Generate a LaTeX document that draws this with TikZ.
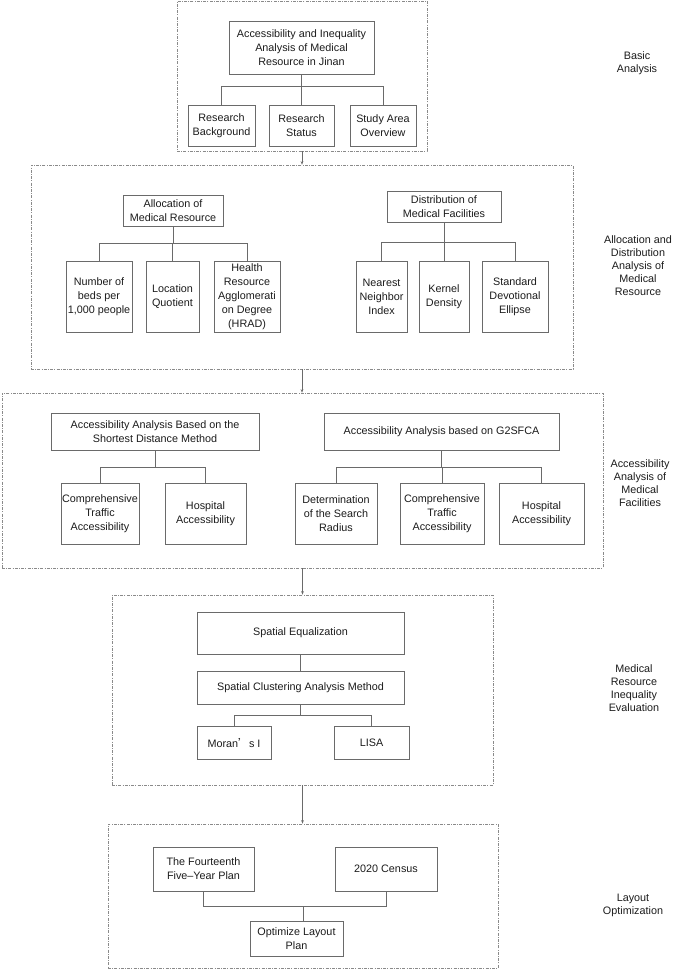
\documentclass[tikz,border=0pt]{standalone}
\usepackage{fontspec}
\setmainfont{Liberation Sans}
\newfontfamily\cjk{Noto Sans CJK SC}
\usetikzlibrary{arrows.meta}
\definecolor{linec}{HTML}{6A6A6A}
\definecolor{dashc}{HTML}{8A8A8A}
\definecolor{textc}{HTML}{1C1C1C}
\begin{document}
\begin{tikzpicture}[x=1pt,y=-1pt,
  bx/.style={draw=linec, line width=0.7pt, inner sep=0pt, align=center, font=\fontsize{10.8}{14}\selectfont, text=textc},
  grp/.style={draw=dashc, line width=0.6pt, dash pattern=on 3pt off 1.2pt on 1pt off 1.2pt, inner sep=0pt},
  lbl/.style={align=center, font=\fontsize{10.8}{13}\selectfont, text=textc},
  con/.style={draw=linec, line width=0.7pt},
  arr/.style={con, -{Stealth[length=3.5pt,width=2.6pt]}}
]
\useasboundingbox (0,0) rectangle (678,969);
\fill[white] (0,0) rectangle (678,969);

% ---------- group 1
\node[grp, minimum width=250pt, minimum height=150pt] (g1) at (302,76) {};
\node[bx, minimum width=145pt, minimum height=53pt] (T) at (301.5,47.5) {Accessibility and Inequality\\Analysis of Medical\\Resource in Jinan};
\node[bx, minimum width=67pt, minimum height=41pt] (RB) at (221.5,125.5) {Research\\Background};
\node[bx, minimum width=65pt, minimum height=41pt] (RS) at (301.5,125.5) {Research\\Status};
\node[bx, minimum width=66pt, minimum height=41pt] (SA) at (383,125.5) {Study Area\\Overview};
\coordinate (b1) at (301.5,86);
\draw[con] (T.south) -- (b1);
\draw[con] (RB.north) -- (RB.north |- b1) -- (SA.north |- b1) -- (SA.north);
\draw[con] (RS.north) -- (RS.north |- b1);
\node[lbl] (L1) at (637,63) {Basic\\Analysis};

% ---------- group 2
\node[grp, minimum width=542pt, minimum height=204pt] (g2) at (302,267) {};
\node[bx, minimum width=100pt, minimum height=31pt] (AM) at (173,210.5) {Allocation of\\Medical Resource};
\node[bx, minimum width=114pt, minimum height=31pt] (DM) at (444,206.5) {Distribution of\\Medical Facilities};
\node[bx, minimum width=66pt, minimum height=71pt] (NB) at (99,296.5) {Number of\\beds per\\1,000 people};
\node[bx, minimum width=53pt, minimum height=71pt] (LQ) at (172.5,296.5) {Location\\Quotient};
\node[bx, minimum width=66pt, minimum height=71pt] (HR) at (247,296.5) {Health\\Resource\\Agglomerati\\on Degree\\(HRAD)};
\node[bx, minimum width=51pt, minimum height=71pt] (NN) at (381.5,296.5) {Nearest\\Neighbor\\Index};
\node[bx, minimum width=50pt, minimum height=71pt] (KD) at (444,296.5) {Kernel\\Density};
\node[bx, minimum width=66pt, minimum height=71pt] (SD) at (515,296.5) {Standard\\Devotional\\Ellipse};
\coordinate (b2a) at (173,243);
\coordinate (b2b) at (444,242);
\draw[con] (AM.south) -- (b2a);
\draw[con] (NB.north) -- (NB.north |- b2a) -- (HR.north |- b2a) -- (HR.north);
\draw[con] (LQ.north) -- (LQ.north |- b2a);
\draw[con] (DM.south) -- (b2b);
\draw[con] (NN.north) -- (NN.north |- b2b) -- (SD.north |- b2b) -- (SD.north);
\draw[con] (KD.north) -- (KD.north |- b2b);
\node[lbl] (L2) at (638,266) {Allocation and\\Distribution\\Analysis of\\Medical\\Resource};

% ---------- group 3
\node[grp, minimum width=601pt, minimum height=175pt] (g3) at (302.5,480.5) {};
\node[bx, minimum width=208pt, minimum height=37pt] (SM) at (155,431.5) {Accessibility Analysis Based on the\\Shortest Distance Method};
\node[bx, minimum width=235pt, minimum height=37pt] (GM) at (441.5,431.5) {Accessibility Analysis based on G2SFCA};
\node[bx, minimum width=78pt, minimum height=61pt] (CA) at (100,513.5) {Comprehensive\\Traffic\\Accessibility};
\node[bx, minimum width=81pt, minimum height=61pt] (HA) at (205.5,513.5) {Hospital\\Accessibility};
\node[bx, minimum width=82pt, minimum height=61pt] (DR) at (336,513.5) {Determination\\of the Search\\Radius};
\node[bx, minimum width=84pt, minimum height=61pt] (CB) at (442,513.5) {Comprehensive\\Traffic\\Accessibility};
\node[bx, minimum width=85pt, minimum height=61pt] (HB) at (541.5,513.5) {Hospital\\Accessibility};
\coordinate (b3a) at (155,467);
\coordinate (b3b) at (441.5,467);
\draw[con] (SM.south) -- (b3a);
\draw[con] (CA.north) -- (CA.north |- b3a) -- (HA.north |- b3a) -- (HA.north);
\draw[con] (GM.south) -- (b3b);
\draw[con] (DR.north) -- (DR.north |- b3b) -- (HB.north |- b3b) -- (HB.north);
\draw[con] (CB.north) -- (CB.north |- b3b);
\node[lbl] (L3) at (640,483) {Accessibility\\Analysis of\\Medical\\Facilities};

% ---------- group 4
\node[grp, minimum width=381pt, minimum height=190pt] (g4) at (302.5,690) {};
\node[bx, minimum width=207pt, minimum height=42pt] (SE) at (300.5,633) {Spatial Equalization};
\node[bx, minimum width=207pt, minimum height=33pt] (SC) at (300.5,687.5) {Spatial Clustering Analysis Method};
\node[bx, minimum width=74pt, minimum height=33pt] (MO) at (234,742.5) {Moran{\cjk ’}s I};
\node[bx, minimum width=75pt, minimum height=33pt] (LI) at (371.5,742.5) {LISA};
\coordinate (b4) at (300.5,715);
\draw[con] (SE.south) -- (SC.north);
\draw[con] (SC.south) -- (b4);
\draw[con] (MO.north) -- (MO.north |- b4) -- (LI.north |- b4) -- (LI.north);
\node[lbl] (L4) at (634,688) {Medical\\Resource\\Inequality\\Evaluation};

% ---------- group 5
\node[grp, minimum width=390pt, minimum height=144pt] (g5) at (303,896) {};
\node[bx, minimum width=101pt, minimum height=44pt] (FP) at (203.5,869) {The Fourteenth\\Five–Year Plan};
\node[bx, minimum width=102pt, minimum height=44pt] (CE) at (386,869) {2020 Census};
\node[bx, minimum width=93pt, minimum height=35pt] (OP) at (296.5,938.5) {Optimize Layout\\Plan};
\coordinate (b5) at (303,906);
\draw[con] (FP.south) -- (FP.south |- b5) -- (CE.south |- b5) -- (CE.south);
\draw[con] (b5) -- (b5 |- OP.north);
\node[lbl] (L5) at (633,905) {Layout\\Optimization};

% ---------- arrows between groups
\draw[arr] (g1.south) -- (g1.south |- g2.north);
\draw[arr] (g2.south) -- (g2.south |- g3.north);
\draw[arr] (g3.south) -- (g3.south |- g4.north);
\draw[arr] (g4.south) -- (g4.south |- g5.north);
\end{tikzpicture}
\end{document}
